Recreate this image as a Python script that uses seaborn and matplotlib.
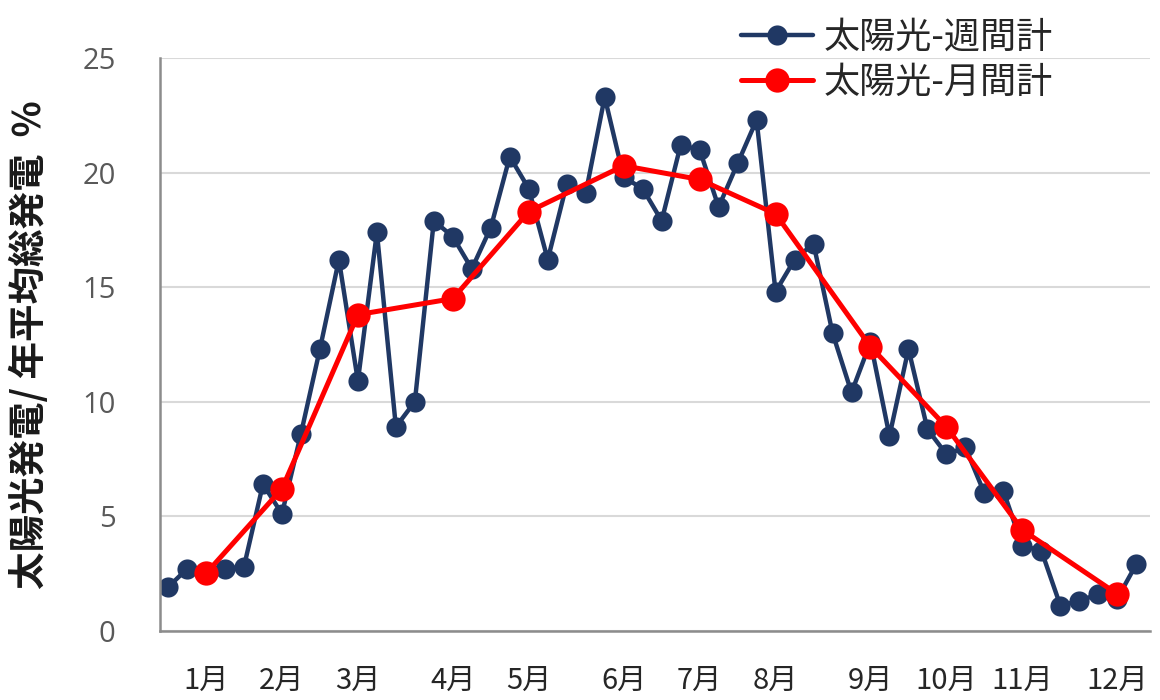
import numpy as np
import pandas as pd
import matplotlib
matplotlib.use("Agg")
import matplotlib.pyplot as plt
import seaborn as sns

# ── Datos ─────────────────────────────────────────────────────────────────────
weekly_vals = [1.9, 2.7, 2.5, 2.7, 2.8, 6.4, 5.1, 8.6, 12.3, 16.2,
               10.9, 17.4, 8.9, 10.0, 17.9, 17.2, 15.8, 17.6, 20.7, 19.3,
               16.2, 19.5, 19.1, 23.3, 19.8, 19.3, 17.9, 21.2, 21.0, 18.5,
               20.4, 22.3, 14.8, 16.2, 16.9, 13.0, 10.4, 12.6, 8.5, 12.3,
               8.8, 7.7, 8.0, 6.0, 6.1, 3.7, 3.5, 1.1, 1.3, 1.6,
               1.4, 2.9]
month_idx = [2, 6, 10, 15, 19, 24, 28, 32, 37, 41, 45, 50]
monthly_vals = [2.5, 6.2, 13.8, 14.5, 18.3, 20.3, 19.7, 18.2, 12.4, 8.9, 4.4, 1.6]
month_labels = ["1月", "2月", "3月", "4月", "5月", "6月",
                "7月", "8月", "9月", "10月", "11月", "12月"]
y_ticks = [0, 5, 10, 15, 20, 25]

weekly_name = "太陽光-週間計"
monthly_name = "太陽光-月間計"
y_label = "太陽光発電/ 年平均総発電  %"

# ── Estilo ────────────────────────────────────────────────────────────────────
sns.set_theme(style="white")
plt.rcParams["font.family"] = ["Noto Sans CJK JP", "DejaVu Sans"]

NAVY = "#203864"
RED = "#FF0000"

df_w = pd.DataFrame({"semana": np.arange(len(weekly_vals)), "valor": weekly_vals})
df_m = pd.DataFrame({"semana": month_idx, "valor": monthly_vals})

fig = plt.figure(figsize=(11.6, 7), dpi=100)
ax = fig.add_axes([0.138, 0.099, 0.853, 0.818])

sns.lineplot(data=df_w, x="semana", y="valor", ax=ax, color=NAVY,
             linewidth=3.2, marker="o", markersize=14.5, markeredgewidth=0,
             label=weekly_name)
sns.lineplot(data=df_m, x="semana", y="valor", ax=ax, color=RED,
             linewidth=3.6, marker="o", markersize=17.5, markeredgewidth=0,
             label=monthly_name)

ax.set_ylim(0, 25)
ax.set_xlim(-0.42, 51.7)
ax.set_yticks(y_ticks)
ax.yaxis.grid(True, color="#d9d9d9", linewidth=1.5)
ax.set_axisbelow(True)
ax.tick_params(axis="y", direction="in", length=9, width=1.5, color="#8c8c8c",
               labelsize=21, labelcolor="#595959", pad=32)
for lbl in ax.get_yticklabels():
    lbl.set_family(["Open Sans", "DejaVu Sans"])

ax.set_xticks(month_idx)
ax.set_xticklabels(month_labels)
ax.tick_params(axis="x", length=0, labelsize=21, labelcolor="#262626", pad=25)

for side in ["top", "right"]:
    ax.spines[side].set_visible(False)
for side in ["left", "bottom"]:
    ax.spines[side].set_color("#8c8c8c")
    ax.spines[side].set_linewidth(1.8)

ax.set_xlabel("")
ax.set_ylabel(y_label, fontsize=27, fontweight="bold", color="#1a1a1a")
ax.yaxis.set_label_coords(-0.112, 0.5)

ax.legend(loc="upper left", bbox_to_anchor=(0.626, 0.992),
          bbox_transform=fig.transFigure, frameon=False, fontsize=26,
          handlelength=2.0, handletextpad=0.3, labelspacing=0.25,
          borderaxespad=0)

fig.savefig("out.png", dpi=100)
